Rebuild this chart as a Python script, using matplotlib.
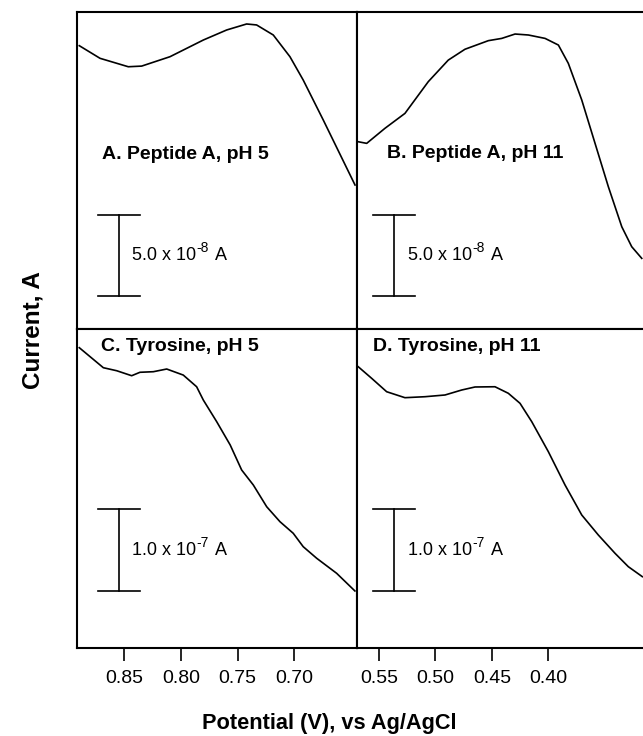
import matplotlib
matplotlib.use("Agg")
import matplotlib.pyplot as plt
import matplotlib.transforms as mtransforms

plt.rcParams['font.family'] = ['Liberation Sans', 'DejaVu Sans']

# Peptide A, pH 5  (potential in V, current in nA, arbitrary offset)
pep5_v = [0.8897, 0.8714, 0.8465, 0.8347, 0.8097, 0.7803, 0.7597, 0.7421,
          0.7333, 0.7186, 0.7039, 0.6922, 0.6745, 0.6465]
pep5_i = [174.9, 167.1, 161.9, 162.3, 168.1, 178.4, 184.6, 188.3,
          187.7, 181.5, 168.1, 153.7, 129.0, 88.9]

# Peptide A, pH 11
pep11_v = [0.5684, 0.5609, 0.5447, 0.5270, 0.5063, 0.4886, 0.4738, 0.4531,
           0.4412, 0.4294, 0.4176, 0.4028, 0.3910, 0.3822, 0.3703, 0.3585,
           0.3467, 0.3348, 0.3260, 0.3171]
pep11_i = [115.6, 114.6, 123.9, 133.1, 152.7, 166.0, 172.7, 178.0,
           179.4, 182.1, 181.5, 179.4, 175.3, 164.0, 141.4, 114.6,
           87.8, 63.1, 50.8, 43.6]

# Tyrosine, pH 5
tyr5_v = [0.8897, 0.8685, 0.8567, 0.8435, 0.8362, 0.8244, 0.8126, 0.7980,
          0.7862, 0.7803, 0.7685, 0.7566, 0.7465, 0.7362, 0.7244, 0.7127,
          0.7010, 0.6922, 0.6803, 0.6627, 0.6466]
tyr5_i = [367.6, 343.1, 339.4, 333.3, 337.5, 338.2, 341.5, 334.1,
          319.8, 303.5, 277.0, 248.5, 217.9, 199.5, 172.9, 154.6,
          140.4, 124.0, 109.8, 91.4, 69.8]

# Tyrosine, pH 11
tyr11_v = [0.5684, 0.5565, 0.5432, 0.5270, 0.5092, 0.4915, 0.4767, 0.4649,
           0.4472, 0.4354, 0.4250, 0.4146, 0.3999, 0.3851, 0.3703, 0.3556,
           0.3408, 0.3290, 0.3166]
tyr11_i = [344.3, 330.1, 313.7, 306.4, 307.6, 309.7, 315.8, 319.5,
           319.8, 311.8, 299.5, 277.0, 240.3, 199.5, 162.8, 138.3,
           115.9, 99.5, 87.3]

titles = ['A. Peptide A, pH 5', 'B. Peptide A, pH 11',
          'C. Tyrosine, pH 5', 'D. Tyrosine, pH 11']
scale_base = ['5.0 x 10', '5.0 x 10', '1.0 x 10', '1.0 x 10']
scale_exp = ['-8', '-8', '-7', '-7']
scale_sizes = [50, 50, 100, 100]   # nA
left_ticks = [0.85, 0.80, 0.75, 0.70]
right_ticks = [0.55, 0.50, 0.45, 0.40]

fig = plt.figure(figsize=(6.43, 7.36), dpi=100)

pos = [
    [0.1198, 0.5530, 0.4355, 0.4307],
    [0.5552, 0.5530, 0.4448, 0.4307],
    [0.1198, 0.1196, 0.4355, 0.4334],
    [0.5552, 0.1196, 0.4448, 0.4334],
]
xs = [pep5_v, pep11_v, tyr5_v, tyr11_v]
ys = [pep5_i, pep11_i, tyr5_i, tyr11_i]
xlims = [(0.8917, 0.6447), (0.5695, 0.316), (0.8917, 0.6447), (0.5695, 0.316)]
ylims = [(0, 195.7), (0, 195.7), (0, 390.5), (0, 390.5)]
scale_bottom = [20.4, 20.4, 69.9, 69.9]
title_xy = [(0.088, 0.549), (0.104, 0.555), (0.084, 0.945), (0.057, 0.945)]
bar_x = [(0.076, 0.151, 0.225, 0.195), (0.057, 0.130, 0.203, 0.177),
         (0.076, 0.151, 0.225, 0.195), (0.057, 0.130, 0.203, 0.177)]

for k in range(4):
    ax = fig.add_axes(pos[k])
    ax.plot(xs[k], ys[k], color='black', lw=1.2)
    ax.set_xlim(*xlims[k])
    ax.set_ylim(*ylims[k])
    ax.set_yticks([])
    for s in ax.spines.values():
        s.set_linewidth(1.5)
    if k in (1, 3):
        ax.spines['right'].set_visible(False)
    if k < 2:
        ax.set_xticks([])
    else:
        ticks = left_ticks if k == 2 else right_ticks
        ax.set_xticks(ticks)
        ax.set_xticklabels(['%.2f' % t for t in ticks])
        ax.tick_params(axis='x', direction='out', length=9, width=1.2,
                       labelsize=14, pad=7)

    # panel title
    ax.text(title_xy[k][0], title_xy[k][1], titles[k], transform=ax.transAxes,
            fontsize=14, fontweight='bold', ha='left', va='center')

    # scale bar: x in axes fraction, y in data units
    trans = mtransforms.blended_transform_factory(ax.transAxes, ax.transData)
    x0, xc, x1, xt = bar_x[k]
    y0 = scale_bottom[k]
    y1 = y0 + scale_sizes[k]
    ax.plot([xc, xc], [y0, y1], color='black', lw=1.2, transform=trans)
    ax.plot([x0, x1], [y0, y0], color='black', lw=1.2, transform=trans)
    ax.plot([x0, x1], [y1, y1], color='black', lw=1.2, transform=trans)
    t_base = ax.text(xt, (y0 + y1) / 2, scale_base[k], transform=trans,
                     fontsize=13, ha='left', va='center')
    t_exp = ax.annotate(scale_exp[k], xy=(1, 0.5), xycoords=t_base,
                        xytext=(0.5, 0), textcoords='offset points',
                        fontsize=10, ha='left', va='bottom')
    ax.annotate(' A', xy=(1, 0.5), xycoords=(t_exp, t_base),
                xytext=(1.5, 0), textcoords='offset points', fontsize=13,
                ha='left', va='center', annotation_clip=False)

fig.text(329 / 643, 1 - 723 / 736, 'Potential (V), vs Ag/AgCl',
         fontsize=15.7, fontweight='bold', ha='center', va='center')
fig.text(33 / 643, 1 - 330 / 736, 'Current, A', rotation=90,
         fontsize=17.5, fontweight='bold', ha='center', va='center')

fig.savefig('out.png', dpi=100)
